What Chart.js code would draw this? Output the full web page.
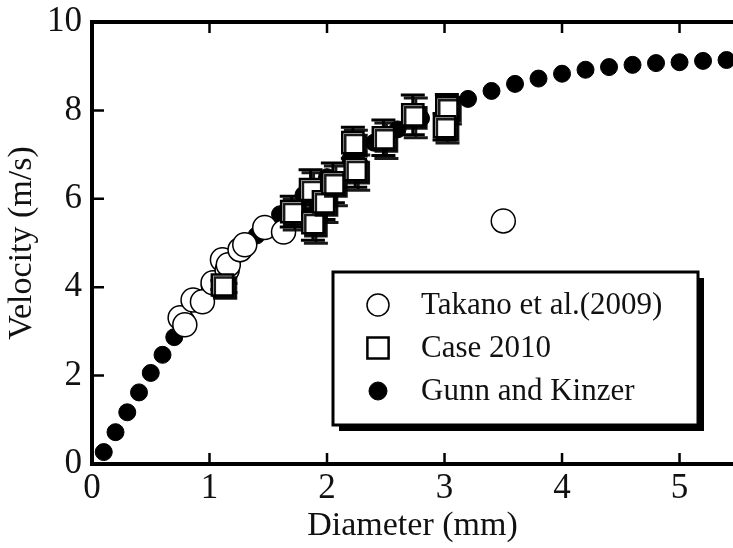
<!DOCTYPE html>
<html>
<head>
<meta charset="utf-8">
<script src="https://cdn.jsdelivr.net/npm/chart.js@4.4.0/dist/chart.umd.min.js"></script>
<style>
  html, body { margin: 0; padding: 0; background: #fff; }
</style>
</head>
<body>
<canvas id="velocity" width="733" height="548"></canvas>
<script>
// Takano et al. (2009)
const takanoD = [0.75, 0.79, 0.86, 0.94, 1.03, 1.11, 1.15, 1.16, 1.26, 1.30, 1.47, 1.63, 3.50];
const takanoV = [3.31, 3.15, 3.71, 3.67, 4.10, 4.62, 4.39, 4.51, 4.85, 4.96, 5.35, 5.25, 5.50];

// Case 2010 (with error bars)
const caseD = [1.11, 1.70, 1.88, 1.86, 1.97, 2.05, 2.24, 2.22, 2.48, 2.73, 3.02, 3.00];
const caseV = [4.05, 5.71, 5.46, 6.21, 5.93, 6.36, 6.66, 7.27, 7.38, 7.90, 8.06, 7.63];
const caseErr = [0.10, 0.35, 0.40, 0.45, 0.40, 0.45, 0.40, 0.35, 0.40, 0.45, 0.30, 0.30];

// Gunn and Kinzer
const gunnD = [0.1, 0.2, 0.3, 0.4, 0.5, 0.6, 0.7, 0.8, 0.9, 1.0, 1.2, 1.4, 1.6, 1.8, 2.0,
  2.2, 2.4, 2.6, 2.8, 3.0, 3.2, 3.4, 3.6, 3.8, 4.0, 4.2, 4.4, 4.6, 4.8, 5.0, 5.2, 5.4];
const gunnV = [0.27, 0.72, 1.17, 1.62, 2.06, 2.47, 2.87, 3.27, 3.67, 4.03, 4.64, 5.17, 5.65, 6.09, 6.49,
  6.90, 7.27, 7.57, 7.82, 8.06, 8.26, 8.44, 8.60, 8.72, 8.83, 8.92, 8.98, 9.03, 9.07, 9.09, 9.12, 9.14];

const xTicks = [0, 1, 2, 3, 4, 5];
const yTicks = [0, 2, 4, 6, 8, 10];
const legendOrder = ["Takano et al.(2009)", "Case 2010", "Gunn and Kinzer"];

const serif = "'Liberation Serif', 'Times New Roman', serif";

function pts(xs, ys) {
  return xs.map((d, i) => ({ x: d, y: ys[i] }));
}

// square markers + error bars get a little drop shadow like the original
const caseShadow = {
  id: "caseShadow",
  beforeDatasetDraw(chart, args) {
    if (chart.data.datasets[args.index].label !== "Case 2010") return;
    const ctx = chart.ctx;
    const x = chart.scales.x, y = chart.scales.y;
    ctx.save();
    ctx.shadowColor = "rgba(0,0,0,0.9)";
    ctx.shadowOffsetX = 3;
    ctx.shadowOffsetY = 3;
    ctx.shadowBlur = 0;
    ctx.strokeStyle = "#000";
    ctx.lineWidth = 3;
    ctx.beginPath();
    caseD.forEach((d, i) => {
      const px = x.getPixelForValue(d);
      const top = y.getPixelForValue(caseV[i] + caseErr[i]);
      const bot = y.getPixelForValue(caseV[i] - caseErr[i]);
      ctx.moveTo(px, top);
      ctx.lineTo(px, bot);
      ctx.moveTo(px - 12, top);
      ctx.lineTo(px + 12, top);
      ctx.moveTo(px - 12, bot);
      ctx.lineTo(px + 12, bot);
    });
    ctx.stroke();
  },
  afterDatasetDraw(chart, args) {
    if (chart.data.datasets[args.index].label !== "Case 2010") return;
    chart.ctx.restore();
  },
};

// inward ticks on bottom/top/left, plus the top frame line
const frameTicks = {
  id: "frameTicks",
  beforeDatasetsDraw(chart) {
    const { ctx, chartArea: a } = chart;
    const x = chart.scales.x, y = chart.scales.y;
    ctx.save();
    ctx.strokeStyle = "#000";
    ctx.lineWidth = 2.5;
    ctx.beginPath();
    xTicks.slice(1).forEach((v) => {
      const px = x.getPixelForValue(v);
      ctx.moveTo(px, a.bottom);
      ctx.lineTo(px, a.bottom - 11);
      ctx.moveTo(px, a.top);
      ctx.lineTo(px, a.top + 11);
    });
    yTicks.slice(1, -1).forEach((v) => {
      const py = y.getPixelForValue(v);
      ctx.moveTo(a.left, py);
      ctx.lineTo(a.left + 12, py);
    });
    ctx.stroke();
    ctx.lineWidth = 4;
    ctx.beginPath();
    ctx.moveTo(a.left - 2, a.top);
    ctx.lineTo(a.right, a.top);
    ctx.stroke();
    ctx.restore();
  },
};

// boxed legend inside the plot, with a shadow
const boxLegend = {
  id: "boxLegend",
  afterDraw(chart) {
    const ctx = chart.ctx;
    const a = chart.chartArea;
    const bx = a.left + 241, by = a.top + 250, bw = 365, bh = 153;
    ctx.save();
    ctx.fillStyle = "#000";
    ctx.fillRect(bx + 6, by + 6, bw, bh);
    ctx.fillStyle = "#fff";
    ctx.fillRect(bx, by, bw, bh);
    ctx.strokeStyle = "#000";
    ctx.lineWidth = 3;
    ctx.strokeRect(bx, by, bw, bh);

    ctx.font = "31px " + serif;
    ctx.textBaseline = "middle";
    legendOrder.forEach((label, i) => {
      const ds = chart.data.datasets.find((d) => d.label === label);
      const cy = by + 33 + i * 43;
      ctx.fillStyle = ds.backgroundColor;
      ctx.strokeStyle = ds.borderColor;
      ctx.lineWidth = ds.borderWidth;
      Chart.helpers.drawPoint(ctx, {
        pointStyle: ds.pointStyle,
        radius: ds.legendRadius,
        borderWidth: ds.borderWidth,
        rotation: 0,
      }, bx + 45, cy);
      ctx.fillStyle = "#111";
      ctx.fillText(label, bx + 88, cy + 1);
    });
    ctx.restore();
  },
};

new Chart(document.getElementById("velocity"), {
  type: "scatter",
  data: {
    datasets: [
      {
        label: "Case 2010",
        data: pts(caseD, caseV),
        pointStyle: "rect",
        pointRadius: 15,
        legendRadius: 15,
        backgroundColor: "#fff",
        borderColor: "#000",
        borderWidth: 2.5,
      },
      {
        label: "Takano et al.(2009)",
        data: pts(takanoD, takanoV),
        pointStyle: "circle",
        pointRadius: 12,
        legendRadius: 11,
        backgroundColor: "#fff",
        borderColor: "#000",
        borderWidth: 1.5,
      },
      {
        label: "Gunn and Kinzer",
        data: pts(gunnD, gunnV),
        pointStyle: "circle",
        pointRadius: 8.5,
        legendRadius: 9,
        backgroundColor: "#000",
        borderColor: "#000",
        borderWidth: 1,
      },
    ],
  },
  options: {
    responsive: false,
    animation: false,
    events: [],
    layout: { autoPadding: false, padding: { top: 22, right: 0, left: 0, bottom: 0 } },
    plugins: {
      legend: { display: false },
      tooltip: { enabled: false },
    },
    scales: {
      x: {
        type: "linear",
        min: 0,
        max: 5.455,
        afterFit: (scale) => {
          scale.height = 84;
          scale.paddingLeft = 0;
          scale.paddingRight = 0;
        },
        afterBuildTicks: (scale) => { scale.ticks = xTicks.map((v) => ({ value: v })); },
        ticks: {
          font: { family: serif, size: 35 },
          color: "#111",
          padding: 4,
          includeBounds: false,
        },
        grid: { display: true, drawOnChartArea: false, drawTicks: false },
        border: { display: true, color: "#000", width: 4 },
        title: {
          display: true,
          text: "Diameter (mm)",
          font: { family: serif, size: 34 },
          color: "#111",
          padding: { top: 0, bottom: 2 },
        },
      },
      y: {
        type: "linear",
        min: 0,
        max: 10,
        afterFit: (scale) => {
          scale.width = 92;
          scale.paddingTop = 0;
          scale.paddingBottom = 0;
        },
        afterBuildTicks: (scale) => { scale.ticks = yTicks.map((v) => ({ value: v })); },
        ticks: {
          font: { family: serif, size: 35 },
          color: "#111",
          padding: 10,
        },
        grid: { display: true, drawOnChartArea: false, drawTicks: false },
        border: { display: true, color: "#000", width: 4 },
        title: {
          display: true,
          text: "Velocity (m/s)",
          font: { family: serif, size: 34 },
          color: "#111",
          padding: { top: 2, bottom: 0 },
        },
      },
    },
  },
  plugins: [caseShadow, frameTicks, boxLegend],
});
</script>
</body>
</html>
